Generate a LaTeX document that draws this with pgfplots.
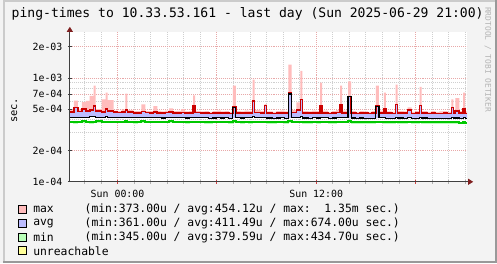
\documentclass[border=0pt]{standalone}
\usepackage{fontspec}
\setmonofont{DejaVu Sans Mono}
\usepackage{pgfplots}
\pgfplotsset{compat=1.18}
\usepackage{pgfplotstable}
\usepgfplotslibrary{fillbetween}
\usetikzlibrary{arrows.meta}
\definecolor{bgc}{HTML}{F3F3F3}
\definecolor{shadea}{HTML}{CBCBCB}
\definecolor{shadeb}{HTML}{999999}
\definecolor{mgridc}{HTML}{E8A8A8}
\definecolor{mtickc}{HTML}{D04040}
\definecolor{gridc}{HTML}{CFCFCF}
\definecolor{gridtc}{HTML}{B0B0B0}
\definecolor{axisc}{HTML}{404040}
\definecolor{arrowc}{HTML}{7F1F1F}
\definecolor{wmc}{HTML}{B4B4B4}
\definecolor{pinkc}{HTML}{FFBCBC}
\definecolor{redc}{HTML}{CC0000}
\definecolor{lbc}{HTML}{BCBCFF}
\definecolor{greenc}{HTML}{00C800}
\definecolor{lgc}{HTML}{B8FFB8}
\definecolor{unrc}{HTML}{FFFF99}

\pgfplotstableread{
i pk rd bb bk gr lg
0 490 470 418 418 380 372
1 605 520 420 420 378 368
2 495 475 416 416 380 374
3 585 500 418 418 382 372
4 600 480 420 420 380 370
5 670 490 422 422 378 366
6 845 535 425 425 380 372
6.5 500 478 418 418 381 374
7 500 478 418 418 381 374
8 620 470 416 416 380 372
9 720 500 422 422 379 370
9.5 610 482 420 420 380 373
10 610 482 420 420 380 373
11 485 468 415 415 377 370
12 480 465 414 414 378 371
13 495 470 416 416 380 372
14 705 490 420 420 382 374
14.5 490 468 414 414 379 371
15 490 468 414 414 379 371
16 480 462 412 412 378 366
17 478 460 412 412 380 372
18 556 475 416 416 381 373
19 482 463 413 413 379 371
20 478 460 412 412 378 370
21 535 470 414 414 380 372
22 482 462 413 413 379 370
23 475 458 411 411 377 369
24 485 465 414 414 380 372
25 510 470 415 415 381 373
26 478 460 412 412 378 370
27 482 462 413 413 379 371
28 500 466 414 414 380 372
29 475 458 411 411 378 368
30 480 462 413 413 377 369
31 680 535 420 420 380 372
31.5 482 463 413 413 379 371
32 482 463 413 413 379 371
33 476 458 412 412 378 370
34 480 460 412 412 377 368
35 472 455 410 410 376 368
36 478 458 411 411 378 370
37 485 462 413 413 379 371
38 476 458 411 411 377 369
39 480 460 412 412 378 370
40 472 456 410 410 376 368
41 845 525 413 520 382 372
41.8 480 462 413 413 378 370
42 480 462 413 413 378 370
43 476 458 411 411 377 366
44 485 462 412 412 378 370
45 480 460 412 412 377 368
46 963 600 425 425 380 372
46.5 490 465 414 414 378 370
47 490 465 414 414 378 370
48 480 460 412 412 377 369
49 560 545 418 418 379 371
49.5 476 458 411 411 376 368
50 476 458 411 411 376 368
51 472 455 409 409 375 367
52 480 460 411 411 377 369
53 485 462 413 413 378 370
54 476 458 410 410 376 368
55 1340 720 412 700 385 372
55.8 490 465 414 414 378 370
56 490 465 414 414 378 370
57 580 490 416 416 377 369
58 1170 620 425 425 380 372
58.5 480 460 411 411 376 368
59 480 460 411 411 376 368
60 476 458 410 410 375 367
61 485 462 412 412 377 369
62 480 460 411 411 376 368
63 900 545 420 420 380 370
63.5 485 462 412 412 377 369
64 485 462 412 412 377 369
65 472 456 409 409 375 366
66 480 460 411 411 376 368
67 490 465 413 413 378 370
68 845 556 420 420 380 371
68.5 485 462 412 412 377 369
69 485 462 412 412 377 369
70 925 665 411 660 382 372
70.8 480 460 411 411 376 368
71 480 460 411 411 376 368
72 472 456 409 409 375 366
73 480 460 411 411 376 368
74 476 458 410 410 375 367
75 470 455 408 408 374 366
76 478 458 410 410 376 368
77 845 535 410 530 378 370
77.8 485 462 412 412 377 369
78 485 462 412 412 377 369
79 720 500 414 414 376 368
79.5 476 458 410 410 375 367
80 476 458 410 410 375 367
81 472 455 408 408 374 365
82 860 556 418 418 378 370
82.5 480 460 411 411 376 368
83 480 460 411 411 376 368
84 476 458 410 410 375 367
85 520 490 413 413 377 369
86 472 455 408 408 374 366
87 478 458 410 410 375 367
88 820 545 416 416 377 369
88.5 480 460 411 411 376 368
89 480 460 411 411 376 368
90 472 455 408 408 374 366
91 478 458 410 410 375 367
92 470 453 407 407 373 365
93 475 456 409 409 374 366
94 480 458 410 410 375 367
95 472 455 408 408 373 365
96 620 520 412 412 374 366
96.5 478 458 411 411 373 365
97 640 480 411 411 373 365
98 478 458 409 409 372 364
99 720 500 412 412 373 365
99.5 475 456 409 409 372 364
100 475 456 409 409 372 364
}\pingdata

\begin{document}
\pagecolor{bgc}
\begin{tikzpicture}
\begin{scope}[x=1bp,y=1bp]
\useasboundingbox (0,0) rectangle (497,265);
\fill[shadea] (0,0) rectangle (2,265);
\fill[shadea] (0,263) rectangle (497,265);
\fill[shadeb] (495,0) rectangle (497,265);
\fill[shadeb] (0,0) rectangle (497,2);
\end{scope}
\begin{axis}[at={(67bp,82bp)}, anchor=south west, scale only axis,
  set layers,
  width=400bp, height=151bp,
  xmin=0, xmax=100, ymode=log, ymin=100, ymax=2780,
  axis background/.style={fill=white},
  axis line style={draw=none},
  xtick={12,37,62,87}, xticklabels={Sun 00:00,,Sun 12:00,},
  minor xtick={3.667,7.833,16.167,20.333,24.5,28.667,32.833,41.167,45.333,49.5,53.667,57.833,66.167,70.333,74.5,78.667,82.833,91.167,95.333,99.5},
  ytick={100,200,500,700,1000,2000},
  yticklabels={1e-04,2e-04,5e-04,7e-04,1e-03,2e-03},
  minor ytick={300,400,600,800,900},
  grid=both,
  major grid style={mgridc, dash pattern=on 1bp off 1bp, line width=0.8bp},
  minor grid style={gridc, dash pattern=on 1bp off 1bp, line width=0.8bp},
  xtick pos=left, ytick pos=left,
  tick align=center, major tick length=4bp, minor tick length=4bp,
  major x tick style={mtickc, line width=0.8bp},
  minor x tick style={gridtc, line width=0.8bp},
  major y tick style={axisc, line width=0.8bp},
  minor y tick style={draw=none},
  ticklabel style={font=\ttfamily\fontsize{10}{12}\selectfont},
  xticklabel style={yshift=-3bp},
  yticklabel style={xshift=-2bp},
]
\addplot[name path=pkp, const plot, draw=none] table[x=i,y=pk]{\pingdata};
\addplot[name path=rdp, const plot, draw=none] table[x=i,y=rd]{\pingdata};
\addplot[name path=bbp, const plot, draw=none] table[x=i,y=bb]{\pingdata};
\addplot[pinkc] fill between[of=pkp and rdp];
\addplot[lbc] fill between[of=rdp and bbp];
\addplot[lgc, const plot, line width=1bp] table[x=i,y=lg]{\pingdata};
\addplot[greenc, const plot, line width=2bp] table[x=i,y=gr]{\pingdata};
\addplot[redc, const plot, line width=1.6bp] table[x=i,y=rd]{\pingdata};
\addplot[black, const plot, line width=1.1bp] table[x=i,y=bk]{\pingdata};
\end{axis}
\begin{scope}[x=1bp,y=1bp]
\draw[axisc, line width=1bp, -{Triangle[length=5bp,width=6bp,color=arrowc]}] (67,82) -- (67,238);
\draw[axisc, line width=1bp, -{Triangle[length=5bp,width=6bp,color=arrowc]}] (67,82) -- (473,82);
\node[font=\ttfamily\fontsize{13.2}{15}\selectfont] at (246,251.5) {ping-times to 10.33.53.161 - last day (Sun 2025-06-29 21:00)};
\node[rotate=90, font=\ttfamily\fontsize{10.5}{12}\selectfont] at (11,154) {sec.};
\node[rotate=-90, font=\ttfamily\fontsize{8}{9}\selectfont, text=wmc] at (488,205) {RRDTOOL / TOBI OETIKER};
\begin{scope}[font=\ttfamily\fontsize{11.5}{13}\selectfont]
\foreach \yy/\cc/\nm/\st in {54.5/pinkc/max/{(min:373.00u / avg:454.12u / max:\ \ 1.35m sec.)},
  40.3/lbc/avg/{(min:361.00u / avg:411.49u / max:674.00u sec.)},
  26.3/lgc/min/{(min:345.00u / avg:379.59u / max:434.70u sec.)},
  12.5/unrc/unreachable/{}} {
  \filldraw[fill=\cc, draw=black, line width=0.8bp] (15.5,\yy-4) rectangle (23.5,\yy+4);
  \node[anchor=west, inner sep=0] at (30,\yy) {\nm};
  \node[anchor=west, inner sep=0] at (81.7,\yy) {\st};
}
\end{scope}
\end{scope}
\end{tikzpicture}
\end{document}
